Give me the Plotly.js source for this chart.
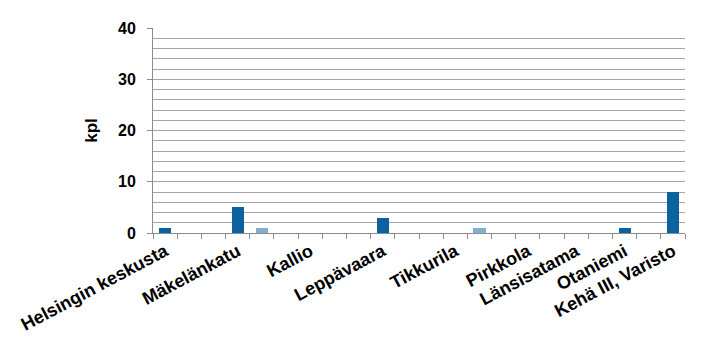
<!DOCTYPE html>
<html>
<head>
<meta charset="utf-8">
<script src="https://cdn.plot.ly/plotly-3.0.1.min.js"></script>
<style>html,body{margin:0;padding:0;background:#fff;}#chart{width:715px;height:360px;}</style>
</head>
<body>
<div id="chart"></div>
<script>
// 22 category slots; a location name marks the first slot of its group
const slotLabels = ["Helsingin keskusta","","","Mäkelänkatu","","","Kallio","","","Leppävaara","","","Tikkurila","","","Pirkkola","","Länsisatama","","Otaniemi","","Kehä III, Varisto"];
const darkValues  = [1,0,0,5,0,0,0,0,0,3,0,0,0,0,0,0,0,0,0,1,0,8];
const lightValues = [0,0,0,0,1,0,0,0,0,0,0,0,0,1,0,0,0,0,0,0,0,0];
const yTicks = [0,10,20,30,40];

const slots = slotLabels.map((_, i) => i);
const labelPos = slots.filter(i => slotLabels[i] !== "");
const labelText = labelPos.map(i => slotLabels[i]);

const traces = [
  {type:'bar', x:slots, y:darkValues, width:0.5, marker:{color:'#0B629F'}, hoverinfo:'y'},
  {type:'bar', x:slots, y:lightValues, width:0.5, marker:{color:'#80B0CD'}, hoverinfo:'y'}
];

const layout = {
  width:715, height:360,
  margin:{l:153, r:30, t:28, b:127},
  paper_bgcolor:'#fff', plot_bgcolor:'#fff',
  barmode:'stack',
  showlegend:false,
  font:{family:'Liberation Sans, Arial, sans-serif', color:'#000'},
  xaxis:{
    range:[-0.5, slots.length-0.5],
    tickmode:'array', tickvals:labelPos, ticktext:labelText,
    ticks:'', tickangle:-28,
    tickfont:{size:18, family:'Liberation Sans, Arial, sans-serif', weight:'bold'},
    showgrid:false, zeroline:false,
    showline:true, linecolor:'#8c8c8c', linewidth:1,
    minor:{tickmode:'linear', tick0:-0.5, dtick:1, ticks:'outside', ticklen:5, tickcolor:'#8c8c8c', showgrid:false}
  },
  yaxis:{
    range:[0,40], tickmode:'array', tickvals:yTicks,
    ticks:'outside', ticklen:5, tickcolor:'#8c8c8c', ticklabelstandoff:8,
    tickfont:{size:16, weight:'bold'},
    showgrid:true, gridcolor:'#a6a6a6', gridwidth:1,
    zeroline:false, showline:true, linecolor:'#8c8c8c', linewidth:1,
    minor:{dtick:2, showgrid:true, gridcolor:'#a6a6a6', gridwidth:1, ticks:''},
    title:{text:'kpl', font:{size:17, weight:'bold'}, standoff:16}
  }
};

Plotly.newPlot('chart', traces, layout, {displayModeBar:false, staticPlot:true});
</script>
</body>
</html>
